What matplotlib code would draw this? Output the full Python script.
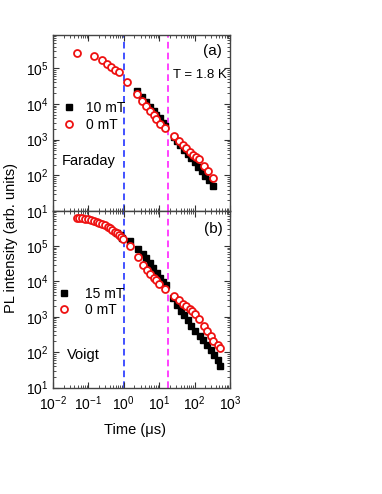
import matplotlib
matplotlib.use("Agg")
import matplotlib.pyplot as plt
from matplotlib.ticker import LogLocator, NullFormatter

plt.rcParams['font.family'] = ['Liberation Sans', 'DejaVu Sans']
plt.rcParams['font.size'] = 10
plt.rcParams['mathtext.fontset'] = 'custom'
plt.rcParams['mathtext.rm'] = 'Liberation Sans'

# ---- Panel (a) Faraday ----
t_a_0 = [0.048, 0.148, 0.245, 0.339, 0.447, 0.562, 0.741, 1.27, 2.29, 3.24, 4.37, 5.50, 6.92,
         8.32, 10.2, 14.8, 25.7, 35.5, 46.8, 58.9, 74.1, 89.1, 110, 132, 186, 240, 339]
I_a_0 = [2.75e5, 2.14e5, 1.66e5, 1.29e5, 1.10e5, 8.9e4, 7.6e4, 4.2e4, 1.9e4, 1.2e4, 8.5e3, 6.2e3,
         4.8e3, 3.7e3, 2.75e3, 2.1e3, 1.26e3, 930, 710, 575, 457, 380, 324, 282, 186, 132, 85]
t_a_B = [2.29, 3.24, 4.37, 5.50, 6.92, 8.32, 10.2, 12.6, 14.8,
         25.7, 32.4, 39.8, 50.1, 63.1, 79.4, 100, 126, 158, 200, 257, 339]
I_a_B = [2.34e4, 1.55e4, 1.10e4, 8.3e3, 6.3e3, 5.0e3, 4.0e3, 3.0e3, 2.4e3,
         1.17e3, 890, 690, 525, 400, 302, 229, 174, 129, 98, 72, 51]

# ---- Panel (b) Voigt ----
t_b_0 = [0.048, 0.055, 0.066, 0.079, 0.098, 0.120, 0.141, 0.174, 0.204, 0.245, 0.295, 0.347,
         0.407, 0.479, 0.550, 0.631, 0.724, 0.813, 0.955, 1.48, 2.51, 3.47, 4.57, 5.62, 6.92,
         8.13, 9.77, 14.8, 25.7, 35.5, 46.8, 57.5, 72.4, 87.1, 105, 129, 186, 229, 288, 339,
         447, 513]
I_b_0 = [6.3e5, 6.2e5, 6.1e5, 6.0e5, 5.75e5, 5.5e5, 5.25e5, 4.9e5, 4.57e5, 4.17e5, 3.9e5, 3.55e5,
         3.16e5, 2.82e5, 2.57e5, 2.29e5, 2.04e5, 1.82e5, 1.55e5, 1.0e5, 4.9e4, 2.9e4, 2.1e4,
         1.58e4, 1.23e4, 1.07e4, 8.7e3, 6.2e3, 3.8e3, 2.9e3, 2.3e3, 2.0e3, 1.66e3, 1.41e3,
         1.2e3, 890, 562, 389, 282, 200, 162, 129]
t_b_B = [0.631, 0.759, 0.891, 1.48, 2.45, 3.39, 4.27, 5.37, 6.76, 8.51, 10.7, 13.2, 15.8,
         24.0, 32.4, 41.7, 51.3, 64.6, 79.4, 102, 138, 178, 229, 288, 355, 447, 513]
I_b_B = [2.34e5, 2.0e5, 1.7e5, 1.38e5, 8.5e4, 6.0e4, 4.47e4, 3.24e4, 2.4e4, 1.78e4, 1.29e4,
         9.8e3, 7.8e3, 3.4e3, 2.2e3, 1.5e3, 1.1e3, 794, 562, 389, 288, 214, 155, 112, 83, 60, 41]

vlines_t = [1.02, 18.0]
vline_colors = ['#2233ff', '#ff22ff']

W, H = 382, 494
fig = plt.figure(figsize=(W / 100, H / 100), dpi=100)
left, right = 53 / W, 230 / W
y_top, y_mid, y_bot = 1 - 34.7 / H, 1 - 211 / H, 1 - 387.5 / H
ax1 = fig.add_axes([left, y_mid, right - left, y_top - y_mid])
ax2 = fig.add_axes([left, y_bot, right - left, y_mid - y_bot], sharex=ax1)

def style(ax, ylim):
    ax.set_xscale('log')
    ax.set_yscale('log')
    ax.set_xlim(1e-2, 1e3)
    ax.set_ylim(*ylim)
    ax.xaxis.set_major_locator(LogLocator(base=10, numticks=10))
    ax.xaxis.set_minor_locator(LogLocator(base=10, subs=range(2, 10), numticks=20))
    ax.yaxis.set_major_locator(LogLocator(base=10, numticks=10))
    ax.yaxis.set_minor_locator(LogLocator(base=10, subs=range(2, 10), numticks=20))
    ax.yaxis.set_minor_formatter(NullFormatter())
    ax.xaxis.set_minor_formatter(NullFormatter())
    ax.tick_params(which='both', direction='in', top=True, right=True, color='#333333')
    ax.tick_params(which='major', length=4, width=0.8, labelsize=10)
    ax.tick_params(which='minor', length=2, width=0.6)
    ax.tick_params(axis='x', pad=5)
    for s in ax.spines.values():
        s.set_color('#444444')
        s.set_linewidth(1.0)
    for t, c in zip(vlines_t, vline_colors):
        ax.axvline(t, color=c, lw=1.2, ls=(0, (4, 2.5)), zorder=1)

style(ax1, (10, 8.7e5))
style(ax2, (10, 9.8e5))
plt.setp(ax1.get_xticklabels(), visible=False)

sq = dict(marker='s', ls='none', color='black', ms=5, zorder=3)
ci = dict(marker='o', ls='none', mfc='white', mec='#ee1111', mew=1.3, ms=5, zorder=4)

ax1.plot(t_a_B, I_a_B, label='10 mT', **sq)
ax1.plot(t_a_0, I_a_0, label='0 mT', **ci)
ax2.plot(t_b_B, I_b_B, label='15 mT', **sq)
ax2.plot(t_b_0, I_b_0, label='0 mT', **ci)

ax1.legend(loc='upper left', bbox_to_anchor=(-0.006, 0.68), frameon=False, handletextpad=0.75,
           handlelength=1.0, labelspacing=0.2, borderaxespad=0.3, fontsize=10)
ax2.legend(loc='upper left', bbox_to_anchor=(-0.03, 0.625), frameon=False, handletextpad=1.0,
           handlelength=1.0, labelspacing=0.15, borderaxespad=0.3, fontsize=10)

ax1.text(62 / W, 1 - 161 / H, 'Faraday', transform=fig.transFigure, ha='left', va='center', fontsize=10.5)
ax2.text(67 / W, 1 - 355 / H, 'Voigt', transform=fig.transFigure, ha='left', va='center', fontsize=10.5)
ax1.text(212 / W, 1 - 51 / H, '(a)', transform=fig.transFigure, ha='center', va='center', fontsize=11)
ax2.text(213 / W, 1 - 229 / H, '(b)', transform=fig.transFigure, ha='center', va='center', fontsize=11)
ax1.text(173 / W, 1 - 75 / H, 'T = 1.8 K', transform=fig.transFigure, ha='left', va='center', fontsize=9.5)

fig.text(11 / W, 1 - 238 / H, 'PL intensity (arb. units)', rotation=90, ha='center', va='center', fontsize=10.5)
fig.text(135 / W, 1 - 430 / H, 'Time (\u03bcs)', ha='center', va='center', fontsize=10.5)

fig.savefig('out.png', dpi=100)
